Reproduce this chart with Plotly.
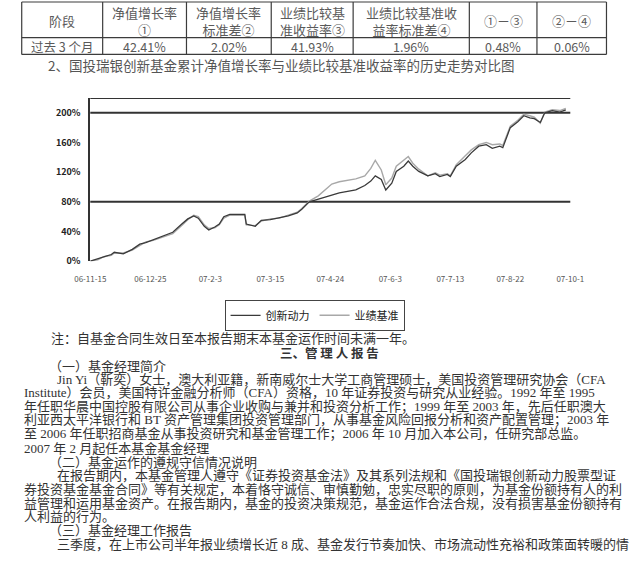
import plotly.graph_objects as go

W, H = 630, 564
FONT = "Noto Sans CJK SC"
BODY_FONT = "Liberation Serif, Noto Sans CJK SC"


def px(x):
    return x / W


def py(y):
    return 1 - y / H


# ---------------- table data ----------------
TABLE_HEADERS = ["阶段", "净值增长率<br>①", "净值增长率<br>标准差②", "业绩比较基<br>准收益率③",
                 "业绩比较基准收<br>益率标准差④", "①－③", "②－④"]
TABLE_ROW = ["过去 3 个月", "42.41%", "2.02%", "41.93%", "1.96%", "0.48%", "0.06%"]

# ---------------- chart data ----------------
DATES = [
    "2006-11-15", "2006-11-20", "2006-11-24", "2006-11-29", "2006-12-01", "2006-12-07",
    "2006-12-13", "2006-12-18", "2006-12-22", "2006-12-27", "2007-01-04", "2007-01-09",
    "2007-01-15", "2007-01-19", "2007-01-23", "2007-01-26", "2007-01-30", "2007-02-02",
    "2007-02-06", "2007-02-09", "2007-02-12", "2007-02-16", "2007-02-26", "2007-02-27",
    "2007-03-05", "2007-03-09", "2007-03-15", "2007-03-21", "2007-03-27", "2007-04-02",
    "2007-04-05", "2007-04-10", "2007-04-16", "2007-04-20", "2007-04-25", "2007-04-30",
    "2007-05-11", "2007-05-17", "2007-05-21", "2007-05-24", "2007-05-28", "2007-05-31",
    "2007-06-04", "2007-06-07", "2007-06-12", "2007-06-15", "2007-06-18", "2007-06-22",
    "2007-06-28", "2007-07-03", "2007-07-06", "2007-07-11", "2007-07-13", "2007-07-17",
    "2007-07-23", "2007-07-27", "2007-08-01", "2007-08-06", "2007-08-10", "2007-08-15",
    "2007-08-17", "2007-08-22", "2007-08-27", "2007-08-31", "2007-09-04", "2007-09-07",
    "2007-09-11", "2007-09-14", "2007-09-19", "2007-09-24", "2007-09-28",
]
FUND = [
    0, 3, 5, 9, 12, 10,
    16, 23, 25, 29, 35, 39,
    50, 57, 61, 58, 47, 42,
    46, 50, 60, 63, 63, 50,
    47, 55, 56, 58, 61, 65,
    70, 80, 83, 86, 89, 92,
    96, 102, 108, 115, 110, 96,
    105, 121, 128, 135, 128, 121,
    115, 118, 114, 117, 114, 128,
    137, 146, 155, 157, 152, 155,
    153, 180, 188, 196, 193, 192,
    187, 200, 203, 201, 204,
]
BENCH = [
    0, 2, 6, 8, 11, 11,
    15, 21, 26, 28, 33, 37,
    48, 56, 62, 60, 49, 44,
    45, 49, 58, 62, 62, 49,
    48, 54, 57, 58, 62, 66,
    71, 81, 88, 95, 104, 107,
    111, 115, 125, 136, 123, 103,
    112, 128, 136, 141, 132, 124,
    115, 119, 116, 118, 115, 130,
    142, 150, 157, 160, 157, 158,
    156, 182, 190, 198, 196, 194,
    186, 201, 204, 203, 206,
]
SERIES_NAMES = ["创新动力", "业绩基准"]

Y_MAX = 220
Y_TICKS = [0, 40, 80, 120, 160, 200]
Y_TICK_LABELS = ["0%", "40%", "80%", "120%", "160%", "200%"]
GRID_VALUES = [80, 200]
X_RANGE = ["2006-11-15", "2007-10-01"]
X_TICK_DATES = ["2006-11-15", "2006-12-25", "2007-02-03", "2007-03-15", "2007-04-24",
                "2007-06-03", "2007-07-13", "2007-08-22", "2007-10-01"]
X_TICK_LABELS = ["06-11-15", "06-12-25", "07-2-3", "07-3-15", "07-4-24",
                 "07-6-3", "07-7-13", "07-8-22", "07-10-1"]

# ---------------- text ----------------
CAPTION = "2、国投瑞银创新基金累计净值增长率与业绩比较基准收益率的历史走势对比图"
NOTE = "注：自基金合同生效日至本报告期末本基金运作时间未满一年。"
HEADING = "三、管 理 人 报 告"
BODY_LINES = [
    ("（一）基金经理简介", 33, 370),
    ("Jin Yi（靳奕）女士，澳大利亚籍，新南威尔士大学工商管理硕士，美国投资管理研究协会（CFA", 41, 384),
    ("Institute）会员，美国特许金融分析师（CFA）资格，10 年证券投资与研究从业经验。1992 年至 1995", 6, 397),
    ("年任职华晨中国控股有限公司从事企业收购与兼并和投资分析工作；1999 年至 2003 年，先后任职澳大", 6, 411),
    ("利亚西太平洋银行和 BT 资产管理集团投资管理部门，从事基金风险回报分析和资产配置管理；2003 年", 6, 425),
    ("至 2006 年任职招商基金从事投资研究和基金管理工作；2006 年 10 月加入本公司，任研究部总监。", 6, 439),
    ("2007 年 2 月起任本基金基金经理", 6, 453),
    ("（二）基金运作的遵规守信情况说明", 33, 467),
    ("在报告期内，本基金管理人遵守《证券投资基金法》及其系列法规和《国投瑞银创新动力股票型证", 41, 481),
    ("券投资基金基金合同》等有关规定，本着恪守诚信、审慎勤勉，忠实尽职的原则，为基金份额持有人的利", 6, 495),
    ("益管理和运用基金资产。在报告期内，基金的投资决策规范，基金运作合法合规，没有损害基金份额持有", 6, 509),
    ("人利益的行为。", 6, 522),
    ("（三）基金经理工作报告", 33, 536),
    ("三季度，在上市公司半年报业绩增长近 8 成、基金发行节奏加快、市场流动性充裕和政策面转暖的情", 41, 550),
]

# table geometry (window pixels)
COL_EDGES = [6, 91, 179, 268, 354, 476, 547, 620]
ROW_EDGES = [2, 38, 55]

fig = go.Figure()

fig.add_trace(go.Scatter(x=DATES, y=BENCH, mode="lines", name=SERIES_NAMES[1],
                         line=dict(color="#a8a8a8", width=1.4)))
fig.add_trace(go.Scatter(x=DATES, y=FUND, mode="lines", name=SERIES_NAMES[0],
                         line=dict(color="#3a3a3a", width=1.3)))

for v in GRID_VALUES + [Y_MAX]:
    fig.add_hline(y=v, line_color="#333333", line_width=2, layer="below")

shapes = [
    dict(type="rect", xref="paper", yref="paper", x0=px(22), x1=px(620), y0=py(330), y1=py(75),
         line=dict(color="#e4e4e4", width=1), layer="below"),
    dict(type="line", xref="paper", yref="paper", x0=px(22), x1=px(614), y0=py(325), y1=py(325),
         line=dict(color="#444444", width=1.5)),
    dict(type="line", xref="paper", yref="paper", x0=px(22), x1=px(614), y0=py(328.5), y1=py(328.5),
         line=dict(color="#666666", width=1.2)),
]
# table grid
for ry in ROW_EDGES:
    shapes.append(dict(type="line", xref="paper", yref="paper", x0=px(COL_EDGES[0]),
                       x1=px(COL_EDGES[-1]), y0=py(ry), y1=py(ry),
                       line=dict(color="#3c3c3c", width=1.2)))
for cx in COL_EDGES:
    shapes.append(dict(type="line", xref="paper", yref="paper", x0=px(cx), x1=px(cx),
                       y0=py(ROW_EDGES[0]), y1=py(ROW_EDGES[-1]),
                       line=dict(color="#3c3c3c", width=1.2)))

annotations = []
for i, (hdr, val) in enumerate(zip(TABLE_HEADERS, TABLE_ROW)):
    cx = (COL_EDGES[i] + COL_EDGES[i + 1]) / 2
    annotations.append(dict(text=hdr, x=px(cx), y=py((ROW_EDGES[0] + ROW_EDGES[1]) / 2 + 1),
                            xref="paper", yref="paper", xanchor="center", yanchor="middle",
                            showarrow=False, align="center",
                            font=dict(family=FONT, size=13, color="#5a5a5a")))
    annotations.append(dict(text=val, x=px(cx), y=py((ROW_EDGES[1] + ROW_EDGES[2]) / 2 + 0.5),
                            xref="paper", yref="paper", xanchor="center", yanchor="middle",
                            showarrow=False,
                            font=dict(family=FONT, size=12.5, color="#5a5a5a")))

annotations += [
    dict(text=CAPTION, x=px(32), y=py(66), xref="paper", yref="paper", xanchor="left",
         yanchor="middle", showarrow=False, font=dict(family=FONT, size=13.5, color="#555555")),
    dict(text=NOTE, x=px(35), y=py(342), xref="paper", yref="paper", xanchor="left",
         yanchor="middle", showarrow=False, font=dict(family=BODY_FONT, size=13, color="#333333")),
    dict(text="<b>" + HEADING + "</b>", x=px(329), y=py(356), xref="paper", yref="paper",
         xanchor="center", yanchor="middle", showarrow=False,
         font=dict(family=FONT, size=12.5, color="#333333")),
]
for text, x, y in BODY_LINES:
    annotations.append(dict(text=text, x=px(x), y=py(y), xref="paper", yref="paper",
                            xanchor="left", yanchor="middle", showarrow=False,
                            font=dict(family=BODY_FONT, size=13, color="#333333")))

fig.update_layout(
    width=W, height=H, margin=dict(l=0, r=0, t=0, b=0),
    paper_bgcolor="white", plot_bgcolor="white",
    font=dict(family=FONT),
    showlegend=True,
    legend=dict(orientation="h", x=px(219), y=py(303), xanchor="left", yanchor="top",
                bgcolor="white", bordercolor="#444444", borderwidth=1,
                traceorder="reversed", font=dict(family=FONT, size=11, color="#222222"),
                itemwidth=30),
    xaxis=dict(domain=[px(78), px(582)], type="date", range=X_RANGE,
               tickvals=X_TICK_DATES, ticktext=X_TICK_LABELS, showgrid=False,
               showline=False, zeroline=False, ticks="",
               tickfont=dict(family=FONT, size=8, color="#555555"), ticklabelstandoff=12),
    yaxis=dict(domain=[py(264), py(99)], range=[0, Y_MAX], tickvals=Y_TICKS,
               ticktext=["<b>" + t + "</b>" for t in Y_TICK_LABELS], showgrid=False,
               zeroline=False, showline=True, linecolor="#333333", linewidth=2, ticks="",
               tickfont=dict(family=FONT, size=9, color="#222222"), ticklabelstandoff=6),
    shapes=shapes,
    annotations=annotations,
)

# remove the browser's default 8px body margin so figure pixels match window pixels
fig.write_html("out.html", config={"displayModeBar": False},
               post_script="document.body.style.margin='0';document.body.style.overflow='hidden';")
